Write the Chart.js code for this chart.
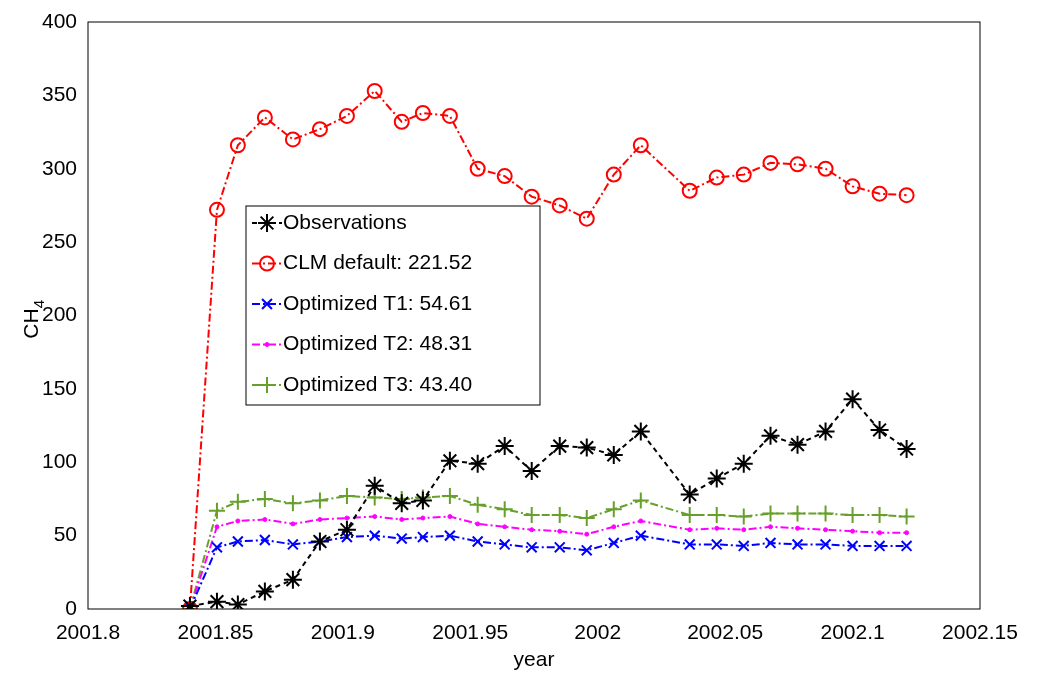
<!DOCTYPE html>
<html><head><meta charset="utf-8">
<script src="https://cdn.jsdelivr.net/npm/chart.js@4"></script>
<style>body{margin:0;background:#fff}#wrap{width:1038px;height:673px}</style>
</head><body><div id="wrap"><canvas id="c"></canvas></div>
<script>
// sample times (decimal year)
const years = [2001.84,2001.8506,2001.8588,2001.8694,2001.8804,2001.891,2001.9016,2001.9125,2001.9231,2001.9314,2001.942,2001.9529,2001.9635,2001.9741,2001.9851,2001.9957,2002.0063,2002.0169,2002.0361,2002.0467,2002.0573,2002.0678,2002.0784,2002.0894,2002.1,2002.1106,2002.1212];
const observations = [2,5,3,12,20,46,54,84,72,74,101,99,111,94,111,110,105,121,78,89,99,118,112,121,143,122,109];
const clmDefault = [0,272,316,335,320,327,336,353,332,338,336,300,295,281,275,266,296,316,285,294,296,304,303,300,288,283,282];
const optT1 = [0,42,46,47,44,46,49,50,48,49,50,46,44,42,42,40,45,50,44,44,43,45,44,44,43,43,43];
const optT2 = [0,56,60,61,58,61,62,63,61,62,63,58,56,54,53,51,56,60,54,55,54,56,55,54,53,52,52];
const optT3 = [0,67,73,75,72,74,77,76,75,76,77,71,68,64,64,62,68,74,64,64,63,65,65,65,64,64,63];

const FONT = '"Liberation Sans", Arial, sans-serif';
const pts = arr => arr.map((v, i) => ({x: years[i], y: v}));

function series(label, data, color, style, radius, dash, width, fillColor) {
  return {label, data: pts(data), borderColor: color, backgroundColor: 'rgba(0,0,0,0)',
    pointStyle: style, pointRadius: radius, pointBorderColor: color, pointBackgroundColor: fillColor || color,
    pointBorderWidth: width, borderWidth: 2, borderDash: dash, tension: 0, fill: false};
}
const datasets = [
  series('Observations', observations, '#000000', 'star', 9, [5,4], 2),
  series('CLM default: 221.52', clmDefault, '#ff0000', 'circle', 7, [8,3,2,3], 2, 'rgba(0,0,0,0)'),
  series('Optimized T1: 54.61', optT1, '#0000ff', 'crossRot', 7, [8,3,2,3], 2),
  series('Optimized T2: 48.31', optT2, '#ff00ff', 'circle', 2, [8,3,2,3], 1),
  series('Optimized T3: 43.40', optT3, '#66a02a', 'cross', 8, [8,3,2,3], 2),
];
datasets.forEach((d, i) => d.order = i);

const frame = {
  id: 'frame',
  afterDraw(chart) {
    const {ctx, chartArea: a} = chart;
    ctx.save();
    ctx.strokeStyle = '#000'; ctx.lineWidth = 1; ctx.setLineDash([]);
    ctx.strokeRect(a.left, a.top, a.right - a.left, a.bottom - a.top);
    // y title with subscript
    ctx.translate(38, (a.top + a.bottom) / 2);
    ctx.rotate(-Math.PI / 2);
    ctx.fillStyle = '#000';
    ctx.font = '21px ' + FONT;
    ctx.textAlign = 'left'; ctx.textBaseline = 'alphabetic';
    const w = ctx.measureText('CH').width;
    ctx.fillText('CH', -w / 2 - 8, 0);
    ctx.font = '15px ' + FONT;
    ctx.fillText('4', w / 2 - 8, 6);
    ctx.restore();
    // legend box
    ctx.save();
    const lx = 246, ly = 206, lw = 294, lh = 199;
    ctx.fillStyle = '#fff'; ctx.fillRect(lx, ly, lw, lh);
    ctx.strokeStyle = '#000'; ctx.lineWidth = 1; ctx.strokeRect(lx, ly, lw, lh);
    ctx.font = '21px ' + FONT; ctx.textBaseline = 'middle';
    chart.data.datasets.forEach((d, i) => {
      const y = ly + 17 + i * 40.5;
      ctx.strokeStyle = d.borderColor; ctx.lineWidth = 2; ctx.setLineDash(d.borderDash);
      ctx.beginPath(); ctx.moveTo(lx + 6, y); ctx.lineTo(lx + 36, y); ctx.stroke();
      ctx.setLineDash([]);
      ctx.fillStyle = d.pointBackgroundColor; ctx.strokeStyle = d.pointBorderColor; ctx.lineWidth = d.pointBorderWidth;
      Chart.helpers.drawPoint(ctx, {pointStyle: d.pointStyle, radius: d.pointRadius, borderWidth: d.pointBorderWidth}, lx + 21, y);
      ctx.fillStyle = '#000';
      ctx.fillText(d.label, lx + 37, y);
    });
    ctx.restore();
  }
};

new Chart(document.getElementById('c'), {
  type: 'line',
  data: {datasets},
  plugins: [frame],
  options: {
    responsive: true, maintainAspectRatio: false, animation: false,
    layout: {padding: {top: 22, right: 58, left: 0, bottom: 0}},
    plugins: {legend: {display: false}, tooltip: {enabled: false}},
    scales: {
      x: {type: 'linear', min: 2001.8, max: 2002.15,
        grid: {display: false}, border: {display: false},
        ticks: {stepSize: 0.05, color: '#000', font: {size: 21, family: FONT}, maxRotation: 0, padding: 4,
          callback: v => Number(v.toFixed(2)).toString()},
        title: {display: true, text: 'year', color: '#000', font: {size: 21, family: FONT}, padding: 0},
        afterFit: s => { s.height = 64; }},
      y: {min: 0, max: 400,
        grid: {display: false}, border: {display: false},
        ticks: {stepSize: 50, color: '#000', font: {size: 21, family: FONT}, padding: 3},
        afterFit: s => { s.width = 88; }}
    }
  }
});
</script></body></html>
